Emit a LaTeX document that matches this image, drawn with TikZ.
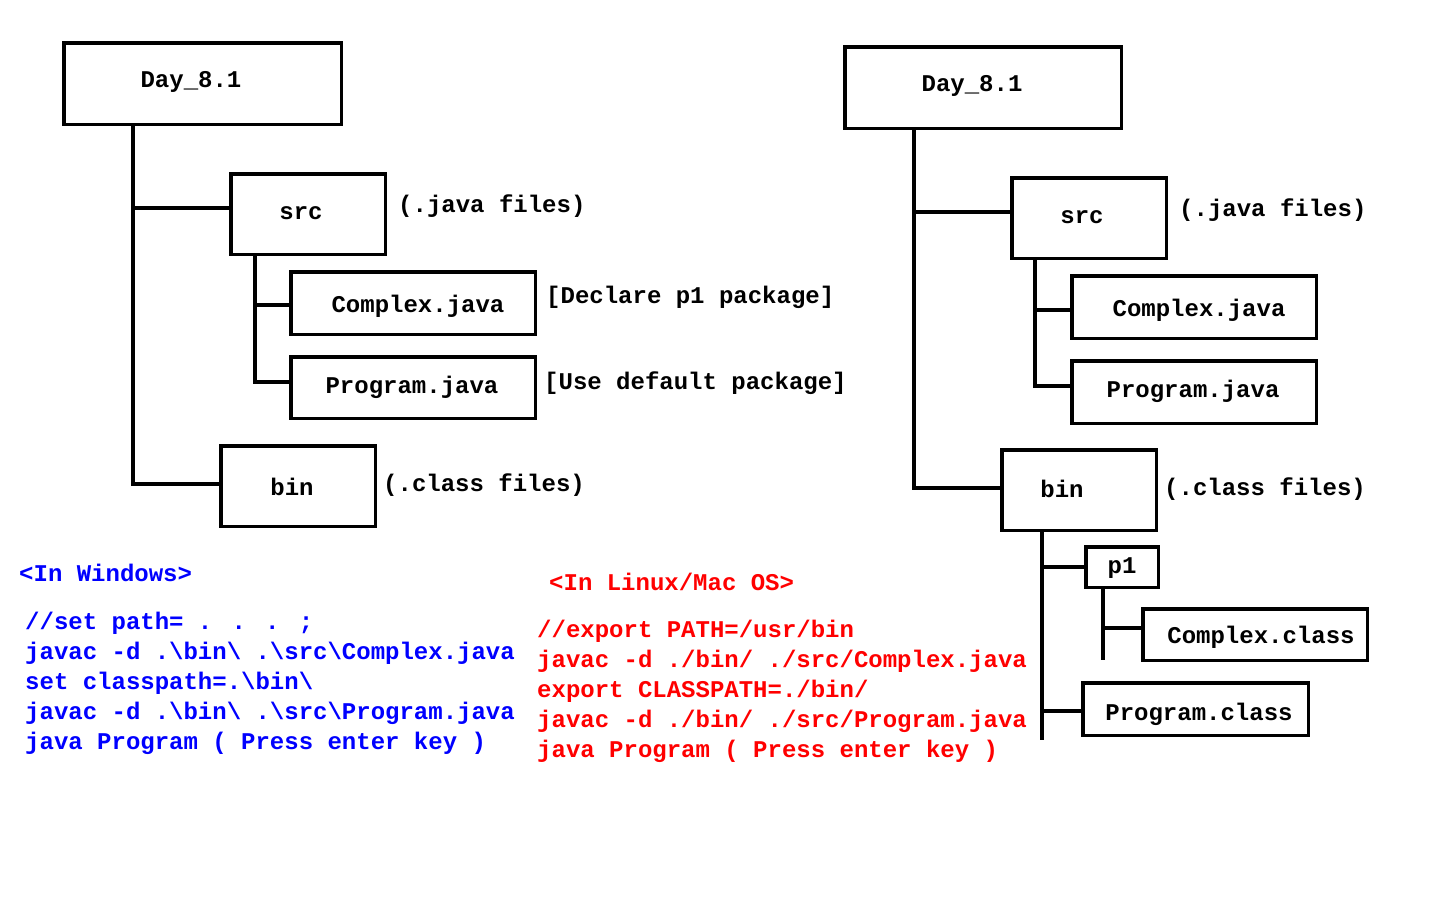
\documentclass[tikz,border=0pt]{standalone}
\usepackage{fontspec}
\newfontfamily\cmono{Liberation Mono}
\newcommand\bs{\textbackslash}
\tikzset{
  fbox/.style={draw, line width=3.5pt, inner sep=0pt},
  conn/.style={line width=4pt},
  txt/.style={font=\cmono\bfseries\fontsize{24}{30}\selectfont, inner sep=0pt, anchor=mid, yshift=-5pt},
  ltxt/.style={txt, anchor=mid west},
  btxt/.style={ltxt, text=blue},
  rtxt/.style={ltxt, text=red}
}
\begin{document}
\begin{tikzpicture}[x=1pt,y=-1pt]
\useasboundingbox (0,0) rectangle (1440,900);
% ---------- left tree ----------
\node[fbox, minimum width=277.5pt, minimum height=81.5pt] (day1) at (202.5,83.5) {};
\node[fbox, minimum width=154.5pt, minimum height=80.5pt] (src1) at (308,214) {};
\node[fbox, minimum width=244.5pt, minimum height=62.5pt] (cj1) at (413,303) {};
\node[fbox, minimum width=244.5pt, minimum height=61.5pt] (pj1) at (413,387.5) {};
\node[fbox, minimum width=154.5pt, minimum height=80.5pt] (bin1) at (298,486) {};
\node[txt] (day1t) at (191,80) {Day\_8.1};
\node[txt] (src1t) at (301,212) {src};
\node[txt] (cj1t) at (418,305) {Complex.java};
\node[txt] (pj1t) at (412,386) {Program.java};
\node[txt] (bin1t) at (292,488) {bin};
\node[ltxt] (srcl1) at (398,205) {(.java files)};
\node[ltxt] (cjl1) at (546,296) {[Declare p1 package]};
\node[ltxt] (pjl1) at (544,382) {[Use default package]};
\node[ltxt] (binl1) at (383,484) {(.class files)};
\coordinate (t1a) at (133,208);
\coordinate (t1b) at (133,484);
\draw[conn] (day1.south -| t1a) -- (t1b) -- (bin1.west |- t1b);
\draw[conn] (t1a) -- (src1.west |- t1a);
\coordinate (s1a) at (255,305);
\coordinate (s1b) at (255,382);
\draw[conn] (src1.south -| s1a) -- (s1b) -- (pj1.west |- s1b);
\draw[conn] (s1a) -- (cj1.west |- s1a);
% ---------- right tree ----------
\node[fbox, minimum width=276.5pt, minimum height=81.5pt] (day2) at (983,87.5) {};
\node[fbox, minimum width=154.5pt, minimum height=80.5pt] (src2) at (1089,218) {};
\node[fbox, minimum width=244.5pt, minimum height=62.5pt] (cj2) at (1194,307) {};
\node[fbox, minimum width=244.5pt, minimum height=62.5pt] (pj2) at (1194,392) {};
\node[fbox, minimum width=154.5pt, minimum height=80.5pt] (bin2) at (1079,490) {};
\node[fbox, minimum width=72.5pt, minimum height=40.5pt] (p1) at (1122,567) {};
\node[fbox, minimum width=224.5pt, minimum height=51.5pt] (cc) at (1255,634.5) {};
\node[fbox, minimum width=225.5pt, minimum height=52.5pt] (pc) at (1195.5,709) {};
\node[txt] (day2t) at (972,84) {Day\_8.1};
\node[txt] (src2t) at (1082,216) {src};
\node[txt] (cj2t) at (1199,309) {Complex.java};
\node[txt] (pj2t) at (1193,390) {Program.java};
\node[txt] (bin2t) at (1062,490) {bin};
\node[txt] (p1t) at (1122,566) {p1};
\node[txt] (cct) at (1261,636) {Complex.class};
\node[txt] (pct) at (1199,713) {Program.class};
\node[ltxt] (srcl2) at (1179,209) {(.java files)};
\node[ltxt] (binl2) at (1164,488) {(.class files)};
\coordinate (t2a) at (914,212);
\coordinate (t2b) at (914,488);
\draw[conn] (day2.south -| t2a) -- (t2b) -- (bin2.west |- t2b);
\draw[conn] (t2a) -- (src2.west |- t2a);
\coordinate (s2a) at (1035,310);
\coordinate (s2b) at (1035,386);
\draw[conn] (src2.south -| s2a) -- (s2b) -- (pj2.west |- s2b);
\draw[conn] (s2a) -- (cj2.west |- s2a);
\coordinate (b2a) at (1042,567);
\coordinate (b2b) at (1042,711);
\coordinate (b2c) at (1042,740);
\draw[conn] (bin2.south -| b2a) -- (b2c);
\draw[conn] (b2a) -- (p1.west |- b2a);
\draw[conn] (b2b) -- (pc.west |- b2b);
\coordinate (q1a) at (1103,628);
\coordinate (q1b) at (1103,660);
\draw[conn] (p1.south -| q1a) -- (q1b);
\draw[conn] (q1a) -- (cc.west |- q1a);
% ---------- commands ----------
\node[btxt] (wh) at (19,574) {<In Windows>};
\node[btxt] (w1) at (25,622) {//set path= . . . ;};
\node[btxt] (w2) at (25,652) {javac -d .\bs bin\bs{} .\bs src\bs Complex.java};
\node[btxt] (w3) at (25,682) {set classpath=.\bs bin\bs};
\node[btxt] (w4) at (25,712) {javac -d .\bs bin\bs{} .\bs src\bs Program.java};
\node[btxt] (w5) at (25,742) {java Program ( Press enter key )};
\node[rtxt] (lh) at (549,583) {<In Linux/Mac OS>};
\node[rtxt] (l1) at (537,630) {//export PATH=/usr/bin};
\node[rtxt] (l2) at (537,660) {javac -d ./bin/ ./src/Complex.java};
\node[rtxt] (l3) at (537,690) {export CLASSPATH=./bin/};
\node[rtxt] (l4) at (537,720) {javac -d ./bin/ ./src/Program.java};
\node[rtxt] (l5) at (537,750) {java Program ( Press enter key )};
\end{tikzpicture}
\end{document}
